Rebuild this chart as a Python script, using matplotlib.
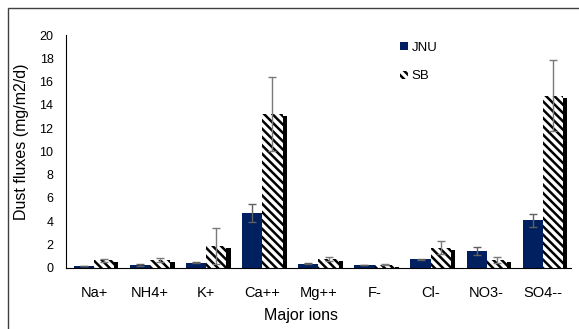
import numpy as np
import matplotlib
matplotlib.use('Agg')
import matplotlib.pyplot as plt
import matplotlib.patheffects as pe
from matplotlib.patches import Rectangle

ions = ['Na+', 'NH4+', 'K+', 'Ca++', 'Mg++', 'F-', 'Cl-', 'NO3-', 'SO4--']
jnu = [0.15, 0.23, 0.43, 4.7, 0.34, 0.23, 0.74, 1.43, 4.08]
jnu_err = [0.02, 0.08, 0.03, 0.8, 0.05, 0.03, 0.05, 0.37, 0.57]
sb = [0.65, 0.65, 1.88, 13.2, 0.74, 0.25, 1.71, 0.66, 14.76]
sb_err = [0.12, 0.15, 1.52, 3.2, 0.15, 0.05, 0.55, 0.25, 3.05]

plt.rcParams['font.family'] = ['Liberation Sans', 'DejaVu Sans']
plt.rcParams['hatch.linewidth'] = 1.8
plt.rcParams['hatch.color'] = 'black'

fig = plt.figure(figsize=(5.79, 3.29), dpi=100)
ax = fig.add_axes([0.114, 0.1863, 0.872, 0.7073])

x = np.arange(len(ions))
w = 0.36
ax.bar(x - w/2, jnu, w, color='#002060', label='JNU', zorder=2)
shadow = [pe.SimplePatchShadow(offset=(3, -1.5), shadow_rgbFace='black', alpha=1), pe.Normal()]
ax.bar(x + w/2, sb, w, color='white', hatch='\\\\\\\\', linewidth=0,
       label='SB', zorder=2, path_effects=shadow)

ax.errorbar(x - w/2, jnu, yerr=jnu_err, fmt='none', ecolor='#606060',
            elinewidth=1, capsize=3, capthick=1, zorder=3)
ax.errorbar(x + w/2, sb, yerr=sb_err, fmt='none', ecolor='#7a7a7a',
            elinewidth=1, capsize=3, capthick=1, zorder=3)

ax.set_xlim(-0.5, len(ions) - 0.5)
ax.set_ylim(0, 20)
ax.set_yticks(np.arange(0, 21, 2))
ax.set_xticks(x)
ax.set_xticklabels(ions, fontsize=10.5)
ax.tick_params(axis='x', length=0, pad=13)
ax.tick_params(axis='y', length=0, pad=9, labelsize=9)
for s in ['top', 'right']:
    ax.spines[s].set_visible(False)
ax.spines['left'].set_color('black')
ax.spines['bottom'].set_color('black')
ax.set_xlabel('Major ions', fontsize=11.5)
ax.set_ylabel('Dust fluxes (mg/m2/d)', fontsize=11.5)
ax.xaxis.set_label_coords(0.465, -0.175)
ax.yaxis.set_label_coords(-0.073, 0.54)

leg = fig.legend(loc='upper left', bbox_to_anchor=(388/579, 1 - 30/329), frameon=False,
                 fontsize=9.5, labelspacing=1.25, handlelength=0.6, handleheight=0.6,
                 handletextpad=0.3)
leg.legend_handles[1].set_path_effects([])

fig.patches.append(Rectangle((8/579, -0.1), 1.1, 1.1 - 8/329, transform=fig.transFigure,
                             fill=False, edgecolor='#404040', linewidth=1, clip_on=False))

fig.savefig('out.png', dpi=100)
